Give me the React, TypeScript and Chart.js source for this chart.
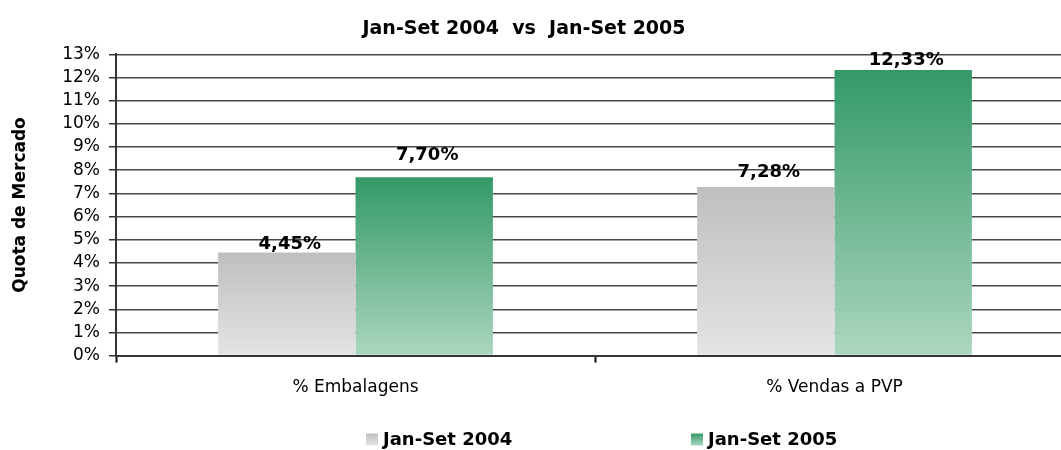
import React, { useEffect, useRef } from "react";
import { Chart, registerables } from "chart.js";

Chart.register(...registerables);

// ---- data ----
const CATEGORIES = ["% Embalagens", "% Vendas a PVP"];
const SERIES_LABELS = ["Jan-Set 2004", "Jan-Set 2005"];
const VALUES_2004 = [4.45, 7.28];
const VALUES_2005 = [7.7, 12.33];
const Y_MIN = 0;
const Y_MAX = 13;
const Y_STEP = 1;
const CHART_TITLE = "Jan-Set 2004  vs  Jan-Set 2005";
const Y_AXIS_TITLE = "Quota de Mercado";

// ---- style ----
const FONT = "'DejaVu Sans', Verdana, sans-serif";
const STOPS_2004 = ["#bfbfbf", "#e4e4e4"];
const STOPS_2005 = ["#339966", "#acd6c1"];
const LABEL_LIFT_2004 = [3, 10];
const LABEL_LIFT_2005 = [17, 5];

const fmtPct = (v: number) => v.toFixed(2).replace(".", ",") + "%";

const barGradient = (stops: string[]) => (ctx: any) => {
  const chart = ctx.chart;
  const { chartArea, scales } = chart;
  if (!chartArea || ctx.type !== "data" || !scales.y) return stops[0];
  const v = ctx.raw as number;
  const yTop = scales.y.getPixelForValue(v);
  const yBase = scales.y.getPixelForValue(0);
  const g = chart.ctx.createLinearGradient(0, yTop, 0, yBase);
  g.addColorStop(0, stops[0]);
  g.addColorStop(1, stops[1]);
  return g;
};

const valueLabels = {
  id: "valueLabels",
  afterDatasetsDraw(chart: any) {
    const { ctx } = chart;
    ctx.save();
    ctx.font = `bold 18px ${FONT}`;
    ctx.fillStyle = "#000";
    ctx.textAlign = "center";
    ctx.textBaseline = "alphabetic";
    chart.data.datasets.forEach((ds: any, di: number) => {
      const meta = chart.getDatasetMeta(di);
      const lifts: number[] = ds.labelLift || [];
      meta.data.forEach((el: any, i: number) => {
        const v = ds.data[i] as number;
        const { x, y } = el.getProps(["x", "y"], true);
        ctx.fillText(fmtPct(v), x + 3, y - (lifts[i] ?? 4));
      });
    });
    ctx.restore();
  },
};

const bottomLegend = {
  id: "bottomLegend",
  afterDraw(chart: any, _args: any, opts: any) {
    const { ctx } = chart;
    const xs: number[] = opts.itemX;
    const y: number = opts.y;
    const size: number = opts.box;
    ctx.save();
    ctx.font = `bold 18px ${FONT}`;
    ctx.textBaseline = "middle";
    ctx.textAlign = "left";
    chart.data.datasets.forEach((ds: any, di: number) => {
      const x = xs[di];
      const stops: string[] = ds.gradientStops;
      const g = ctx.createLinearGradient(0, y - size / 2, 0, y + size / 2);
      g.addColorStop(0, stops[0]);
      g.addColorStop(1, stops[1]);
      ctx.fillStyle = g;
      ctx.fillRect(x, y - size / 2, size, size);
      ctx.fillStyle = "#000";
      ctx.fillText(ds.label, x + size + opts.gap, y + 1);
    });
    ctx.restore();
  },
};

export default function App() {
  const ref = useRef<HTMLCanvasElement | null>(null);

  useEffect(() => {
    if (!ref.current) return;
    const chart = new Chart(ref.current, {
      type: "bar",
      data: {
        labels: CATEGORIES,
        datasets: [
          {
            label: SERIES_LABELS[0],
            data: VALUES_2004,
            backgroundColor: barGradient(STOPS_2004),
            borderWidth: 0,
            categoryPercentage: 0.5737,
            barPercentage: 1,
            labelLift: LABEL_LIFT_2004,
            gradientStops: STOPS_2004,
          } as any,
          {
            label: SERIES_LABELS[1],
            data: VALUES_2005,
            backgroundColor: barGradient(STOPS_2005),
            borderWidth: 0,
            categoryPercentage: 0.5737,
            barPercentage: 1,
            labelLift: LABEL_LIFT_2005,
            gradientStops: STOPS_2005,
          } as any,
        ],
      },
      options: {
        responsive: false,
        animation: false,
        events: [],
        layout: { padding: { left: 0, right: 0, top: 0, bottom: 37 } },
        scales: {
          x: {
            grid: {
              display: true,
              drawOnChartArea: false,
              drawTicks: true,
              tickLength: 7,
              tickColor: "#111",
              tickWidth: 2,
              offset: true,
            },
            border: { display: true, color: "#333", width: 2 },
            ticks: {
              font: { family: FONT, size: 17 },
              color: "#000",
              padding: 15,
            },
          },
          y: {
            min: Y_MIN,
            max: Y_MAX,
            afterFit: (scale: any) => {
              scale.width = 142;
            },
            grid: {
              color: "#4a4a4a",
              lineWidth: 1.5,
              drawTicks: true,
              tickLength: 7,
              tickColor: "#333",
            },
            border: { display: true, color: "#333", width: 2 },
            ticks: {
              stepSize: Y_STEP,
              autoSkip: false,
              font: { family: FONT, size: 17 },
              color: "#000",
              padding: 9,
              callback: (v: any) => `${v}%`,
            },
            title: {
              display: true,
              text: Y_AXIS_TITLE,
              font: { family: FONT, size: 17, weight: "bold" },
              color: "#000",
              padding: { top: 36, bottom: 0 },
            },
          },
        },
        plugins: {
          legend: { display: false },
          tooltip: { enabled: false },
          title: {
            display: true,
            text: CHART_TITLE,
            font: { family: FONT, size: 19, weight: "bold" },
            color: "#000",
            padding: { top: 18, bottom: 13.6 },
          },
          bottomLegend: { itemX: [392, 717], y: 439.5, box: 12, gap: 5 },
        } as any,
      },
      plugins: [valueLabels, bottomLegend],
    });
    return () => chart.destroy();
  }, []);

  return (
    <div
      style={{
        position: "fixed",
        left: 0,
        top: 0,
        width: "1061px",
        height: "450px",
        overflow: "hidden",
        background: "#fff",
      }}
    >
      <div style={{ position: "absolute", left: "-26px", top: 0, width: "1100px", height: "450px" }}>
        <canvas ref={ref} width={1100} height={450} style={{ width: "1100px", height: "450px", display: "block" }} />
      </div>
    </div>
  );
}
